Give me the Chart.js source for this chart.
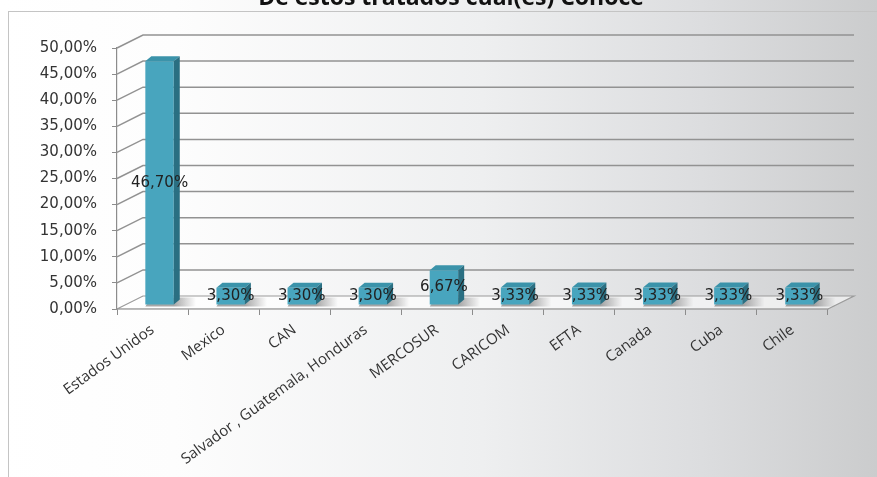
<!DOCTYPE html>
<html>
<head>
<meta charset="utf-8">
<script src="https://cdn.jsdelivr.net/npm/chart.js@4.4.1/dist/chart.umd.min.js"></script>
<style>
  html, body { margin: 0; padding: 0; }
  body {
    width: 877px;
    height: 477px;
    overflow: hidden;
    position: relative;
    background: linear-gradient(90deg, #ffffff 0%, #fdfdfd 20%, #eeeff0 55%, #dcdddf 80%, #cbcccd 100%);
  }
  #frame {
    position: absolute;
    left: 8px;
    top: 11px;
    width: 900px;
    height: 500px;
    border-left: 1px solid #c4c4c4;
    border-top: 1px solid #c4c4c4;
  }
  #chart { position: absolute; left: 0; top: 0; }
</style>
</head>
<body>
<div id="frame"></div>
<canvas id="chart" width="877" height="477"></canvas>
<script>
const chartTitle = "De estos tratados cual(es) Conoce";
const categories = ["Estados Unidos", "Mexico", "CAN", "Salvador , Guatemala, Honduras", "MERCOSUR", "CARICOM", "EFTA", "Canada", "Cuba", "Chile"];
const percentages = [46.70, 3.30, 3.30, 3.30, 6.67, 3.33, 3.33, 3.33, 3.33, 3.33];
const yMin = 0;
const yMax = 50;
const yStep = 5;

// depth of the 3D box (walls / floor) and of each bar
const WALL_DX = 26, WALL_DY = -13;
const BAR_DX = 7, BAR_DY = -4;
const FACE_DX = 6, FACE_DY = -5;

function fmt(v) {
  return v.toFixed(2).replace(".", ",") + "%";
}

const box3d = {
  id: "box3d",
  beforeDraw(chart) {
    const ctx = chart.ctx;
    ctx.save();
    ctx.font = "bold 23px 'Open Sans'";
    ctx.fillStyle = "#111";
    ctx.textAlign = "center";
    ctx.textBaseline = "alphabetic";
    ctx.fillText(chartTitle, 451, 5);
    ctx.restore();
  },
  beforeDatasetsDraw(chart) {
    const { ctx, chartArea: a, scales: { y } } = chart;
    const y0 = y.getPixelForValue(0);
    ctx.save();
    ctx.beginPath();
    ctx.moveTo(a.left, y0);
    ctx.lineTo(a.left + WALL_DX, y0 + WALL_DY);
    ctx.lineTo(a.right + WALL_DX, y0 + WALL_DY);
    ctx.lineTo(a.right, y0);
    ctx.closePath();
    ctx.fillStyle = "rgba(255,255,255,0.6)";
    ctx.fill();
    ctx.strokeStyle = "#9a9a9a";
    ctx.lineWidth = 1.2;
    ctx.stroke();

    ctx.beginPath();
    y.ticks.forEach((t) => {
      if (t.value === 0) return;
      const p = y.getPixelForValue(t.value);
      ctx.moveTo(a.left, p);
      ctx.lineTo(a.left + WALL_DX, p + WALL_DY);
      ctx.lineTo(a.right + WALL_DX, p + WALL_DY);
    });
    ctx.strokeStyle = "#929292";
    ctx.lineWidth = 1.5;
    ctx.stroke();

    // soft shadow of each bar on the floor
    const meta = chart.getDatasetMeta(0);
    meta.data.forEach((bar) => {
      const { x, base, width } = bar.getProps(["x", "base", "width"], true);
      const r = x + width / 2 + BAR_DX;
      const b = base + BAR_DY;
      const g = ctx.createLinearGradient(r, 0, r + 22, 0);
      g.addColorStop(0, "rgba(60,60,60,0.45)");
      g.addColorStop(1, "rgba(60,60,60,0)");
      ctx.beginPath();
      ctx.moveTo(r - width, b + 2);
      ctx.lineTo(r + FACE_DX - width, b + FACE_DY - 2);
      ctx.lineTo(r + FACE_DX + 22, b + FACE_DY - 2);
      ctx.lineTo(r + 22, b + 2);
      ctx.closePath();
      ctx.fillStyle = g;
      ctx.fill();
    });
    ctx.restore();
  },
  beforeDatasetDraw(chart) {
    chart.ctx.save();
    chart.ctx.translate(BAR_DX, BAR_DY);
  },
  afterDatasetDraw(chart) {
    chart.ctx.restore();
  },
  afterDatasetsDraw(chart) {
    const ctx = chart.ctx;
    const meta = chart.getDatasetMeta(0);
    ctx.save();
    meta.data.forEach((bar) => {
      const { x, y, base, width } = bar.getProps(["x", "y", "base", "width"], true);
      const l = x - width / 2 + BAR_DX;
      const r = x + width / 2 + BAR_DX;
      const t = y + BAR_DY;
      const b = base + BAR_DY;

      ctx.beginPath();
      ctx.moveTo(l, t);
      ctx.lineTo(l + FACE_DX, t + FACE_DY);
      ctx.lineTo(r + FACE_DX, t + FACE_DY);
      ctx.lineTo(r, t);
      ctx.closePath();
      ctx.fillStyle = "#3b93aa";
      ctx.fill();

      ctx.beginPath();
      ctx.moveTo(r, t);
      ctx.lineTo(r + FACE_DX, t + FACE_DY);
      ctx.lineTo(r + FACE_DX, b + FACE_DY);
      ctx.lineTo(r, b);
      ctx.closePath();
      ctx.fillStyle = "#2a6f82";
      ctx.fill();
    });

    ctx.font = "15px 'DejaVu Sans'";
    ctx.fillStyle = "#222";
    ctx.textAlign = "center";
    ctx.textBaseline = "middle";
    meta.data.forEach((bar, i) => {
      const { x, y, base } = bar.getProps(["x", "y", "base"], true);
      ctx.fillText(fmt(percentages[i]), x + BAR_DX, (y + base) / 2 + BAR_DY);
    });
    ctx.restore();
  }
};

new Chart(document.getElementById("chart"), {
  type: "bar",
  data: {
    labels: categories,
    datasets: [
      {
        data: percentages,
        backgroundColor: "#48a5be",
        borderWidth: 0,
        barPercentage: 0.4,
        categoryPercentage: 1
      }
    ]
  },
  options: {
    responsive: false,
    animation: false,
    layout: { padding: { top: 48, right: 49, left: 0, bottom: 0 } },
    plugins: {
      legend: { display: false },
      title: { display: false },
      tooltip: { enabled: false }
    },
    scales: {
      x: {
        afterFit(scale) { scale.height = 168; },
        grid: { drawOnChartArea: false, drawTicks: true, tickLength: 6, color: "#8c8c8c" },
        border: { display: true, color: "#8c8c8c", width: 1.2 },
        ticks: {
          minRotation: 36,
          maxRotation: 36,
          autoSkip: false,
          padding: 6,
          color: "#333",
          font: { family: "'Open Sans'", size: 15 }
        }
      },
      y: {
        min: yMin,
        max: yMax,
        afterFit(scale) { scale.width = 117; },
        grid: { drawOnChartArea: false, drawTicks: true, tickLength: 5, color: "#8c8c8c" },
        border: { display: true, color: "#8c8c8c", width: 1.2 },
        ticks: {
          stepSize: yStep,
          padding: 15,
          color: "#333",
          font: { family: "'DejaVu Sans'", size: 15 },
          callback: (v) => fmt(v)
        }
      }
    }
  },
  plugins: [box3d]
});
</script>
</body>
</html>
